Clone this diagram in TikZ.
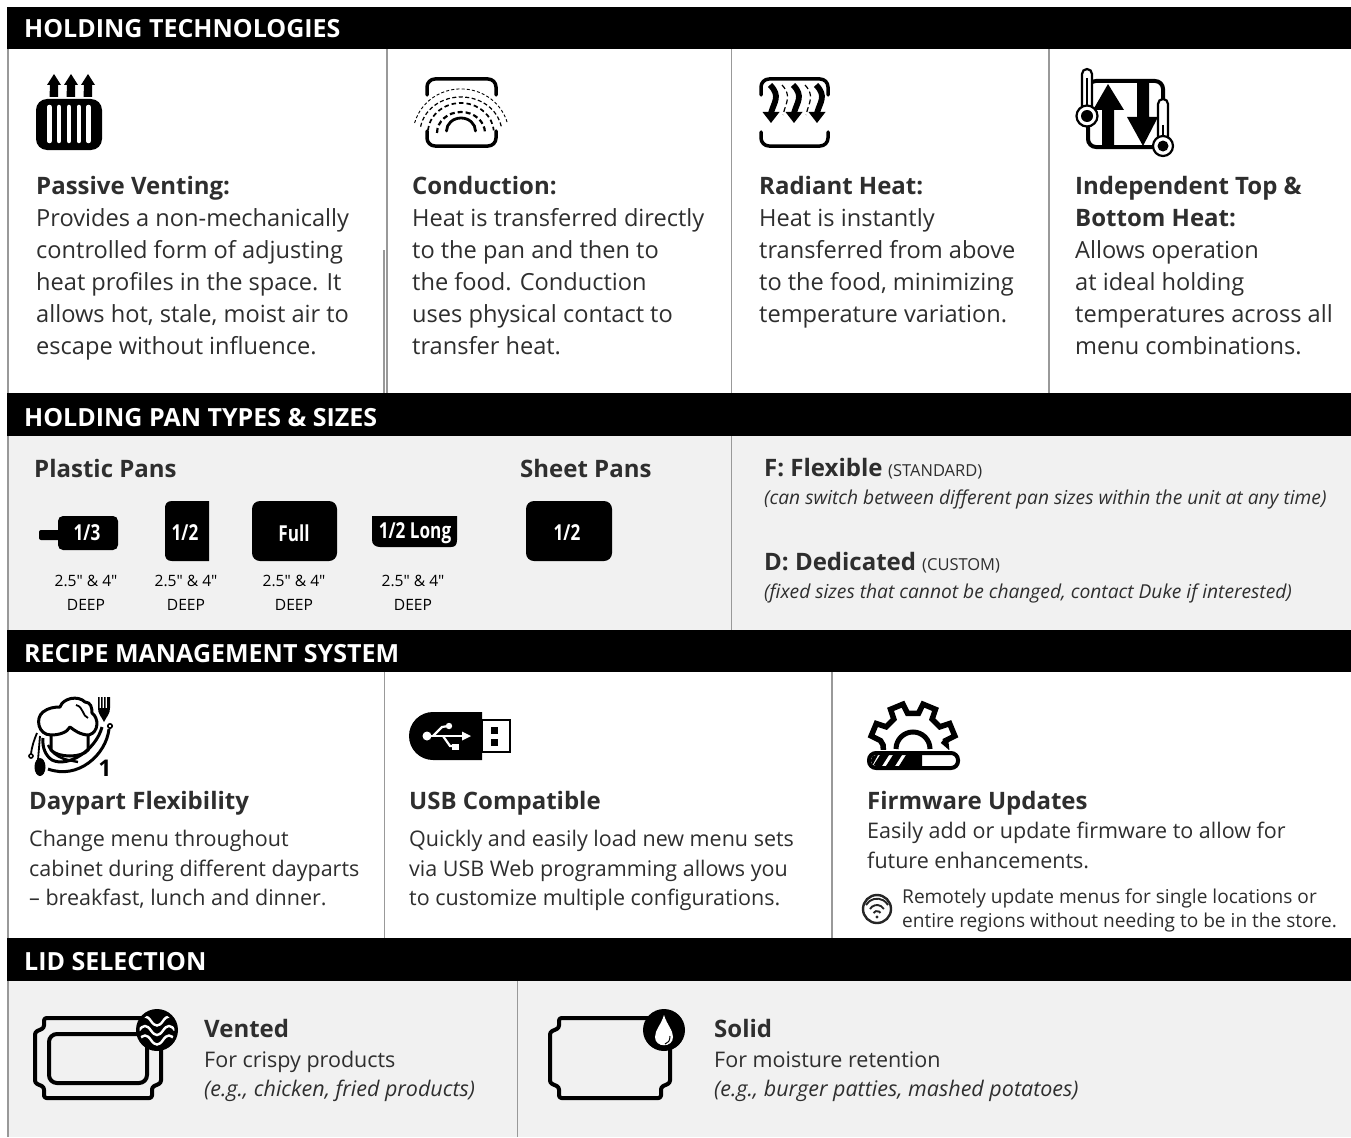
\documentclass[tikz,border=0pt]{standalone}
\usepackage{fontspec}
\setmainfont{Open Sans}
\newfontfamily\condfont[FakeStretch=0.78]{Open Sans}
\definecolor{ink}{HTML}{2E2E2E}
\definecolor{panel}{HTML}{F1F1F1}
\definecolor{rule}{HTML}{999999}
\tikzset{
 band/.style={fill=black,draw=none},
 hd/.style={anchor=base west,inner sep=0pt,text=white,font=\fontsize{25}{24}\selectfont\bfseries},
 ttl/.style={anchor=base west,inner sep=0pt,text=ink,font=\fontsize{24}{24}\selectfont\bfseries},
 body/.style={anchor=base west,inner sep=0pt,text=ink,font=\fontsize{23.6}{24}\selectfont},
 bodyb/.style={anchor=base west,inner sep=0pt,text=ink,font=\fontsize{21.5}{24}\selectfont},
 bodyi/.style={anchor=base west,inner sep=0pt,text=ink,font=\fontsize{21.5}{24}\selectfont\itshape},
 small/.style={anchor=base west,inner sep=0pt,text=ink,font=\fontsize{19.1}{24}\selectfont},
 note/.style={anchor=base west,inner sep=0pt,text=ink,font=\fontsize{19.2}{24}\selectfont\itshape},
 tag/.style={anchor=base west,inner sep=0pt,text=ink,font=\fontsize{16.5}{24}\selectfont},
 dep/.style={anchor=base,inner sep=0pt,text=black,font=\fontsize{15.6}{20}\selectfont},
 pan/.style={anchor=center,inner sep=0pt,text=white,font=\condfont\fontsize{22}{24}\selectfont\bfseries},
 vline/.style={draw=rule,line width=1.2pt},
 ic/.style={draw=black,line width=3.5pt,line cap=round,line join=round},
 lid/.style={draw=black,line width=4pt,line join=round,rounded corners=2.5pt},
}
\begin{document}
\begin{tikzpicture}[x=1pt,y=-1pt]
\useasboundingbox (0,0) rectangle (1351,1137);
\fill[white] (0,0) rectangle (1351,1137);
% panels
\fill[panel] (8,436) rectangle (1351,630);
\fill[panel] (8,981) rectangle (1351,1137);
% rules
\draw[vline] (8,49) -- (8,1137);
\draw[vline] (387,49) -- (387,393);
\draw[vline] (384,250) -- (384,393);
\draw[vline] (731.5,49) -- (731.5,393);
\draw[vline] (1049,49) -- (1049,393);
\draw[vline] (731.5,436) -- (731.5,630);
\draw[vline] (384.5,672) -- (384.5,938);
\draw[vline] (832,672) -- (832,938);
\draw[vline] (517.5,981) -- (517.5,1137);
% bands
\fill[band] (7,7) rectangle (1351,49);
\fill[band] (7,393) rectangle (1351,436);
\fill[band] (7,630) rectangle (1351,672);
\fill[band] (7,938) rectangle (1351,981);
\node[hd] (h1) at (24,38) {HOLDING TECHNOLOGIES};
\node[hd] (h2) at (24,426) {HOLDING PAN TYPES \& SIZES};
\node[hd] (h3) at (24,662) {RECIPE MANAGEMENT SYSTEM};
\node[hd] (h4) at (24,970) {LID SELECTION};
% column 1
\node[ttl] (a0) at (36,194) {Passive Venting:};
\node[body] (a1) at (36,226) {Provides a non-mechanically};
\node[body] (a2) at (36,258) {controlled form of adjusting};
\node[body] (a3) at (36,290) {heat profiles in the space. It};
\node[body] (a4) at (36,322) {allows hot, stale, moist air to};
\node[body] (a5) at (36,354) {escape without influence.};
\node[ttl] (b0) at (412,194) {Conduction:};
\node[body] (b1) at (412,226) {Heat is transferred directly};
\node[body] (b2) at (412,258) {to the pan and then to};
\node[body] (b3) at (412,290) {the food. Conduction};
\node[body] (b4) at (412,322) {uses physical contact to};
\node[body] (b5) at (412,354) {transfer heat.};
\node[ttl] (c0) at (759,194) {Radiant Heat:};
\node[body] (c1) at (759,226) {Heat is instantly};
\node[body] (c2) at (759,258) {transferred from above};
\node[body] (c3) at (759,290) {to the food, minimizing};
\node[body] (c4) at (759,322) {temperature variation.};
\node[ttl] (d0) at (1075,194) {Independent Top \&};
\node[ttl] (d1) at (1075,226) {Bottom Heat:};
\node[body] (d2) at (1075,258) {Allows operation};
\node[body] (d3) at (1075,290) {at ideal holding};
\node[body] (d4) at (1075,322) {temperatures across all};
\node[body] (d5) at (1075,354) {menu combinations.};
% vent icon
\fill[black,rounded corners=11pt] (36,99) rectangle (102,150);
\foreach \x in {49.5,59,69,78.8,88.5}
  \draw[white,line width=4.5pt,line cap=round] (\x,107) -- (\x,141);
\foreach \x in {54,71,88}
  \fill[black] (\x-4.5,97) -- (\x-4,85) -- (\x-7,85) -- (\x,74) -- (\x+7,85) -- (\x+4,85) -- (\x+4,97) -- cycle;
% conduction icon
\draw[ic] (427,95) -- (427,87) arc[start angle=180,end angle=90,radius=8pt] -- (488,79) arc[start angle=90,end angle=0,radius=8pt] -- (496,95);
\draw[ic] (427,131) -- (427,138) arc[start angle=180,end angle=270,radius=8pt] -- (488,146) arc[start angle=270,end angle=360,radius=8pt] -- (496,131);
\draw[line width=2.8pt,line cap=round] (446.5,131) arc[start angle=180,end angle=0,x radius=14.5pt,y radius=13pt];
\draw[line width=2.2pt,dash pattern=on 5pt off 3pt] (437,133) arc[start angle=180,end angle=0,x radius=24pt,y radius=21pt];
\draw[line width=1.7pt,dash pattern=on 4.5pt off 3pt] (428,130.4) arc[start angle=175,end angle=5,x radius=33pt,y radius=30pt];
\draw[line width=1.2pt,dash pattern=on 4pt off 2.5pt] (420.6,126.7) arc[start angle=170,end angle=10,x radius=41pt,y radius=36pt];
\draw[line width=.9pt,dash pattern=on 3pt off 2.2pt] (414.6,123) arc[start angle=165,end angle=15,x radius=48pt,y radius=46pt];
% radiant icon
\draw[ic] (761,95) -- (761,87) arc[start angle=180,end angle=90,radius=8pt] -- (820,79) arc[start angle=90,end angle=0,radius=8pt] -- (828,95);
\draw[ic] (761,132) -- (761,138) arc[start angle=180,end angle=270,radius=8pt] -- (820,146) arc[start angle=270,end angle=360,radius=8pt] -- (828,132);
\foreach \x in {771,794,817}{
  \draw[line width=5.8pt] (\x-1,85) .. controls (\x+10,96) and (\x+3,102) .. (\x,113);
  \fill[black] (\x-8.5,112) -- (\x+8.5,112) -- (\x,123) -- cycle;
}
\foreach \x in {783,806}
  \draw[line width=1.2pt,dash pattern=on 5pt off 3pt] (\x-1,85) .. controls (\x+9,96) and (\x+3,102) .. (\x,115);
% independent heat icon
\draw[black,line width=4pt,rounded corners=8pt] (1088,81) rectangle (1163,147);
\fill[black] (1102,146) -- (1102,110) -- (1093,110) -- (1108,84) -- (1124,110) -- (1114,110) -- (1114,146) -- cycle;
\fill[black] (1137,81) -- (1149,81) -- (1149,117) -- (1158,117) -- (1143,146) -- (1127,117) -- (1137,117) -- cycle;
\draw[black,line width=2.2pt,fill=white] (1082,108) -- (1082,74) arc[start angle=180,end angle=0,radius=5pt] -- (1092,108);
\draw[black,line width=2.4pt] (1087,78) -- (1087,110);
\draw[black,line width=2.2pt,fill=white] (1087,116) circle[radius=10.5pt];
\fill[black] (1087,116) circle[radius=6pt];
\draw[black,line width=2.2pt,fill=white] (1158,138) -- (1158,104) arc[start angle=180,end angle=0,radius=5pt] -- (1168,138);
\draw[black,line width=2.4pt] (1163,125) -- (1163,140);
\draw[black,line width=2.2pt,fill=white] (1163,146) circle[radius=10pt];
\fill[black] (1163,146) circle[radius=5.5pt];
% pans
\node[ttl] (p0) at (34,477) {Plastic Pans};
\node[ttl] (p1) at (520,477) {Sheet Pans};
\fill[black,rounded corners=2pt] (39,530) rectangle (62,540);
\fill[black,rounded corners=5pt] (58,516) rectangle (118,550);
\node[pan] (p2) at (87,533) {1/3};
\fill[black] (209,501) -- (209,561) -- (172,561) .. controls (167,561) and (165,558) .. (165,554) -- (165,508) .. controls (165,504) and (167,501) .. (172,501) -- cycle;
\node[pan] (p3) at (185,533) {1/2};
\fill[black,rounded corners=8pt] (252,501) rectangle (337,561);
\node[pan] (p4) at (294,533) {Full};
\fill[black] (372,516) -- (457,516) -- (457,540) .. controls (457,545) and (455,547) .. (451,547) -- (380,547) .. controls (375,547) and (372,544) .. (372,540) -- cycle;
\node[pan] (p5) at (415,533) {1/2 Long};
\fill[black,rounded corners=8pt] (526,501) rectangle (612,561);
\node[pan] (p6) at (567,533) {1/2};
\node[dep] (q1) at (86,586) {2.5″ \& 4″};
\node[dep] (q2) at (86,610) {DEEP};
\node[dep] (q3) at (186,586) {2.5″ \& 4″};
\node[dep] (q4) at (186,610) {DEEP};
\node[dep] (q5) at (294,586) {2.5″ \& 4″};
\node[dep] (q6) at (294,610) {DEEP};
\node[dep] (q7) at (413,586) {2.5″ \& 4″};
\node[dep] (q8) at (413,610) {DEEP};
\node[ttl] (f0) at (764,476) {F: Flexible};
\node[tag] (f1) at (888,476) {(STANDARD)};
\node[note] (f2) at (764,504) {(can switch between different pan sizes within the unit at any time)};
\node[ttl] (g0) at (764,570) {D: Dedicated};
\node[tag] (g1) at (922,570) {(CUSTOM)};
\node[note] (g2) at (764,598) {(fixed sizes that cannot be changed, contact Duke if interested)};
% recipe
\node[ttl] (r0) at (29,809) {Daypart Flexibility};
\node[bodyb] (r1) at (29,846) {Change menu throughout};
\node[bodyb] (r2) at (29,876) {cabinet during different dayparts};
\node[bodyb] (r3) at (29,905) {– breakfast, lunch and dinner.};
\node[ttl] (s0) at (409,809) {USB Compatible};
\node[bodyb] (s1) at (409,846) {Quickly and easily load new menu sets};
\node[bodyb] (s2) at (409,876) {via USB Web programming allows you};
\node[bodyb] (s3) at (409,905) {to customize multiple configurations.};
\node[ttl] (t0) at (867,809) {Firmware Updates};
\node[bodyb] (t1) at (867,838) {Easily add or update firmware to allow for};
\node[bodyb] (t2) at (867,868) {future enhancements.};
\node[small] (t3) at (902,903) {Remotely update menus for single locations or};
\node[small] (t4) at (902,927) {entire regions without needing to be in the store.};
% chef icon
\draw[black,line width=3pt,line join=round]
 (51,735) .. controls (38,735) and (35,718) .. (43,712) .. controls (48,708) and (54,707) .. (60,707)
 .. controls (63,698) and (78,695) .. (85,702) .. controls (91,702) and (92,708) .. (92,713)
 .. controls (99,718) and (99,732) .. (89,735) .. controls (80,735) and (74,730) .. (70,727) .. controls (67,733) and (58,735) .. (51,735);
\draw[black,line width=1.8pt] (76,705) .. controls (84,707) and (82,716) .. (88,718);
\draw[black,line width=3pt] (51,735) -- (51,750) .. controls (58,758) and (82,758) .. (88,750) -- (88,735);
\fill[black] (98,697) -- (99.5,697) -- (99.5,708) -- (101,708) -- (101,697) -- (102.5,697) -- (102.5,708) -- (104,708) -- (104,697) -- (105.5,697) -- (105.5,708) -- (107,708) -- (107,697) -- (110,697) -- (110,708) .. controls (110,714) and (107,716) .. (104,722) .. controls (101,716) and (98,714) .. (98,708) -- cycle;
\draw[black,line width=3pt] (109,729) .. controls (106,755) and (78,780) .. (48,769);
\draw[black,line width=3pt] (102,727) .. controls (96,750) and (68,768) .. (52,760) .. controls (46,756) and (42,748) .. (43,738);
\draw[black,line width=2.4pt] (48,745) .. controls (55,760) and (70,760) .. (78,762);
\draw[black,line width=1.8pt] (37,733) .. controls (34,740) and (32,746) .. (31,754);
\draw[black,line width=1.6pt,fill=white] (31,756) circle[radius=2pt];
\draw[black,line width=1.6pt,fill=white] (110,726) circle[radius=2.2pt];
\fill[black] (40,767) ellipse[x radius=5.5pt,y radius=9pt];
\draw[black,line width=1.8pt] (40,736) -- (38,760);
\node[anchor=base,inner sep=0pt,font=\fontsize{23}{23}\selectfont\bfseries] (r9) at (105,776) {1};
% usb icon
\fill[black] (482,712) -- (433,712) arc[start angle=90,end angle=270,radius=24pt] -- (482,760) -- cycle;
\draw[black,line width=2.8pt,fill=white] (482,720) -- (510,720) -- (510,752) -- (482,752) -- cycle;
\fill[black] (491,727) rectangle (498,734);
\fill[black] (491,739) rectangle (498,746);
\draw[white,line width=2.2pt] (427,736) -- (465,736);
\draw[white,line width=2.2pt] (433,736) -- (442,727) -- (448,726);
\draw[white,line width=2.2pt] (443,736) -- (450,746) -- (455,746);
\fill[white] (427,736) circle[radius=4.5pt];
\fill[white] (449,726) circle[radius=3.2pt];
\fill[white] (452,743.5) rectangle (459,750);
\fill[white] (462,731.5) -- (471,736) -- (462,740.5) -- cycle;
% gear icon
\begin{scope}
\clip (860,695) rectangle (970,749);
\begin{scope}[shift={(913,746)}]
\draw[black,line width=5.5pt,line join=miter]
 (-10:30) -- (-4:33)
 \foreach \a in {22.5,67.5,112.5,157.5}{ -- ({-\a+13}:33) -- ({-\a+9}:43) -- ({-\a-9}:43) -- ({-\a-13}:33) }
 -- (-178:30) -- (170:30);
\end{scope}
\end{scope}
\draw[black,line width=5pt,line cap=butt] (896,749) arc[start angle=180,end angle=0,radius=17pt];
\draw[black,line width=4pt,rounded corners=7pt,fill=white] (869,753) rectangle (958,768);
\begin{scope}
\clip[rounded corners=5pt] (871,755) rectangle (956,766);
\fill[black] (871,755) -- (878,755) -- (872,766) -- (871,766) -- cycle;
\foreach \x in {884,897,910}
  \fill[black] (\x-4,755) -- (\x+5,755) -- (\x-2,766) -- (\x-11,766) -- cycle;
\fill[black] (909,755) -- (922,755) -- (922,766) -- (903,766) -- cycle;
\end{scope}
% wifi icon
\draw[black!85,line width=2.4pt,fill=white] (877,909) circle[radius=14pt];
\draw[black!85,line width=1.9pt] (866,905) arc[start angle=150,end angle=30,radius=12.7pt];
\draw[black!85,line width=1.9pt] (870,909) arc[start angle=150,end angle=30,radius=8pt];
\draw[black!85,line width=1.9pt] (873.5,913) arc[start angle=150,end angle=30,radius=4pt];
\fill[black!85] (877,917) circle[radius=1.7pt];
% lids
\node[ttl] (v0) at (204,1037) {Vented};
\node[bodyb] (v1) at (204,1067) {For crispy products};
\node[bodyi] (v2) at (204,1096) {(e.g., chicken, fried products)};
\node[ttl] (w0) at (714,1037) {Solid};
\node[bodyb] (w1) at (714,1067) {For moisture retention};
\node[bodyi] (w2) at (714,1096) {(e.g., burger patties, mashed potatoes)};
\draw[lid] (44,1018) -- (161,1018) -- (161,1083) -- (152,1087) -- (152,1098) -- (44,1098) -- (44,1087) -- (35,1083) -- (35,1032) -- (44,1028) -- cycle;
\draw[black,line width=4pt,rounded corners=8pt] (49,1034) rectangle (147,1083);
\fill[black] (157,1030) circle[radius=21pt];
\begin{scope}
\clip (157,1030) circle[radius=17.5pt];
\foreach \y in {1021,1030.5,1040}
  \draw[white,line width=2.4pt] (139,\y) .. controls (143,\y-6) and (147,\y-6) .. (151,\y) .. controls (155,\y+6) and (159,\y+6) .. (163,\y) .. controls (167,\y-6) and (171,\y-6) .. (175,\y);
\end{scope}
\draw[lid] (559,1018) -- (670,1018) -- (670,1083) -- (661,1087) -- (661,1098) -- (559,1098) -- (559,1087) -- (550,1083) -- (550,1032) -- (559,1028) -- cycle;
\fill[black] (664,1030) circle[radius=21pt];
\fill[white] (664,1015) .. controls (661,1025) and (655,1030) .. (655,1037) .. controls (655,1048) and (673,1048) .. (673,1037) .. controls (673,1030) and (667,1025) .. (664,1015) -- cycle;
\draw[black,line width=1pt] (670,1036) .. controls (670,1041) and (668,1043) .. (665,1044);
\end{tikzpicture}
\end{document}
